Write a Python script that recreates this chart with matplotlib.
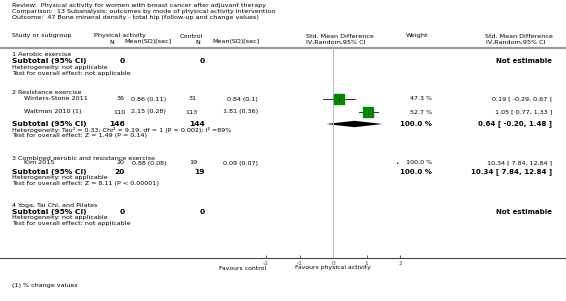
import matplotlib
matplotlib.use("Agg")
import matplotlib.pyplot as plt
from matplotlib.patches import Polygon
import numpy as np

W, H = 566, 301
plt.rcParams['font.family'] = ['DejaVu Sans']

# ---------------- data ----------------
title_lines = [
    "Review:  Physical activity for women with breast cancer after adjuvant therapy",
    "Comparison:  13 Subanalysis: outcomes by mode of physical activity intervention",
    "Outcome:  47 Bone mineral density - total hip (follow-up and change values)",
]
groups = ["1 Aerobic exercise", "2 Resistance exercise",
          "3 Combined aerobic and resistance exercise", "4 Yoga, Tai Chi, and Pilates"]
studies = ["Winters-Stone 2011", "Waltman 2010 (1)", "Kim 2015"]
pa_n = [36, 110, 20]
pa_mean = ["0.86 (0.11)", "2.15 (0.28)", "0.88 (0.08)"]
ct_n = [31, 113, 19]
ct_mean = ["0.84 (0.1)", "1.81 (0.36)", "0.09 (0.07)"]
smd = [0.19, 1.05, 10.34]
ci_lo = [-0.29, 0.77, 7.84]
ci_hi = [0.67, 1.33, 12.84]
weights = [47.3, 52.7, 100.0]

sub_pa_n = [0, 146, 20, 0]
sub_ct_n = [0, 144, 19, 0]
sub_est = [None, 0.64, 10.34, None]
sub_lo = [None, -0.20, 7.84, None]
sub_hi = [None, 1.48, 12.84, None]
sub_het = ["Heterogeneity: not applicable",
           "Heterogeneity: Tau² = 0.33; Chi² = 9.19, df = 1 (P = 0.002); I² =89%",
           "Heterogeneity: not applicable",
           "Heterogeneity: not applicable"]
sub_test = ["Test for overall effect: not applicable",
            "Test for overall effect: Z = 1.49 (P = 0.14)",
            "Test for overall effect: Z = 8.11 (P < 0.00001)",
            "Test for overall effect: not applicable"]
xticks = [-2, -1, 0, 1, 2]
footnote = "(1) % change values"

# ---------------- layout (pixels) ----------------
group_y = [54, 93, 158, 205]
sub_y = [61, 124, 172, 212]
study_y = [99, 112, 163]
fs = 4.6
fsb = 5.4
fsr = 5.0

fig = plt.figure(figsize=(W / 100, H / 100), dpi=100)
ax = fig.add_axes([0, 0, 1, 1])
ax.set_xlim(0, W)
ax.set_ylim(H, 0)
ax.axis('off')

def t(x, y, s, ha='left', size=fs, weight='normal', color='black'):
    ax.text(x, y, s, ha=ha, va='center', fontsize=size, fontweight=weight, color=color)

for i, line in enumerate(title_lines):
    t(12, 6 + i * 5.8, line)

t(12, 36, "Study or subgroup")
t(94, 36, "Physical activity")
t(112, 42, "N", ha='center')
t(148, 42, "Mean(SD)[sec]", ha='center')
t(180, 36, "Control")
t(198, 42, "N", ha='center')
t(236, 42, "Mean(SD)[sec]", ha='center')
t(306, 36, "Std. Mean Difference")
t(306, 42, "IV,Random,95% CI")
t(406, 36, "Weight")
t(485, 36, "Std. Mean Difference")
t(486, 42, "IV,Random,95% CI")
ax.plot([0, W], [48, 48], color='#999999', lw=1.6, solid_capstyle='butt')

# forest axes: x from -2..2 mapped to pixel 266..400
x0, x1 = 266, 400
y_top, y_bot = 48, 258
fax = fig.add_axes([x0 / W, 1 - y_bot / H, (x1 - x0) / W, (y_bot - y_top) / H])
fax.set_xlim(-2, 2)
fax.set_ylim(y_bot, y_top)
fax.patch.set_alpha(0)
for s in fax.spines.values():
    s.set_visible(False)
fax.set_yticks([])
fax.set_xticks(xticks)
fax.set_xticklabels([str(v) for v in xticks])
fax.tick_params(axis='x', direction='in', length=2, width=0.6, pad=2,
                labelsize=4.3, colors='#444444')
fax.axvline(0, color='#bbbbbb', lw=0.8)

# axis line full width
ax.plot([0, W], [258, 258], color='#444444', lw=0.8)
t(266, 268, "Favours control", ha='right', size=4.4)
t(333, 268, "Favours physical activity", ha='center', size=4.4)

for gi, g in enumerate(groups):
    t(12, group_y[gi], g)
    ys = sub_y[gi]
    t(12, ys, "Subtotal (95% CI)", size=fsb, weight='bold')
    t(125, ys, str(sub_pa_n[gi]), ha='right', size=fsb, weight='bold')
    t(205, ys, str(sub_ct_n[gi]), ha='right', size=fsb, weight='bold')
    t(12, ys + 6, sub_het[gi], size=fs)
    t(12, ys + 12, sub_test[gi], size=fs)
    if sub_est[gi] is None:
        t(552, ys, "Not estimable", ha='right', size=fsr, weight='bold')
    else:
        t(432, ys, "100.0 %", ha='right', size=fsr, weight='bold')
        t(552, ys, f"{sub_est[gi]:.2f} [ {sub_lo[gi]:.2f}, {sub_hi[gi]:.2f} ]",
          ha='right', size=fsr, weight='bold')
        if sub_hi[gi] <= 2:
            dia = Polygon([[sub_lo[gi], ys], [sub_est[gi], ys - 3.2],
                           [sub_hi[gi], ys], [sub_est[gi], ys + 3.2]],
                          closed=True, color='black', lw=0)
            fax.add_patch(dia)

for si, s in enumerate(studies):
    y = study_y[si]
    t(24, y, s)
    t(125, y, str(pa_n[si]), ha='right')
    t(166, y, pa_mean[si], ha='right')
    t(197, y, str(ct_n[si]), ha='right')
    t(258, y, ct_mean[si], ha='right')
    t(432, y, f"{weights[si]:.1f} %", ha='right')
    t(552, y, f"{smd[si]:.2f} [ {ci_lo[si]:.2f}, {ci_hi[si]:.2f} ]", ha='right')
    if ci_hi[si] <= 2:
        fax.plot([ci_lo[si], ci_hi[si]], [y, y], color='#333333', lw=0.7)
        ms = 9.5 * np.sqrt(weights[si] / 50.0)
        fax.plot([smd[si]], [y], marker='s', ms=ms * 0.72, color='#008a00',
                 mec='#008a00', ls='none')
        fax.plot([smd[si], smd[si]], [y - 2, y + 2], color='black', lw=0.5)
    else:
        t(398, y, "•", ha='right', size=4)

t(12, 286, footnote)

fig.savefig("out.png", dpi=100)
